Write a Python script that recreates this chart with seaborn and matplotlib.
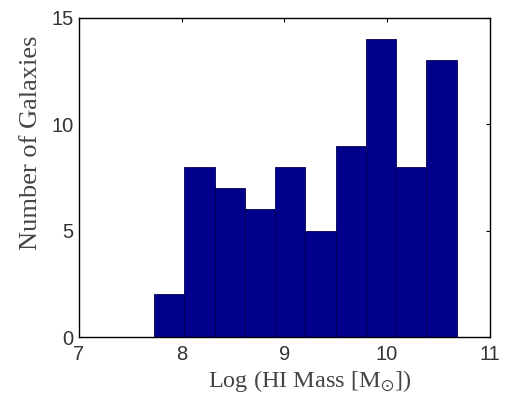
import numpy as np
import matplotlib
matplotlib.use("Agg")
import matplotlib.pyplot as plt
import seaborn as sns

# Histogram data
bin_edges = [7.733, 8.027, 8.322, 8.616, 8.910, 9.205, 9.499, 9.793, 10.088, 10.382, 10.676]
counts = [2, 8, 7, 6, 8, 5, 9, 14, 8, 13]
xticks = [7, 8, 9, 10, 11]
yticks = [0, 5, 10, 15]

centers = [(a + b) / 2 for a, b in zip(bin_edges[:-1], bin_edges[1:])]

sns.set_style("white")
plt.rcParams["font.family"] = ["Liberation Sans", "DejaVu Sans"]
plt.rcParams["mathtext.fontset"] = "stix"

fig = plt.figure(figsize=(5.06, 3.97), dpi=100)
ax = fig.add_axes([0.156, 0.151, 0.812, 0.804])

sns.histplot(x=centers, weights=counts, bins=bin_edges, ax=ax,
             color="#00008a", edgecolor="#000050", linewidth=0.6, alpha=1.0)

ax.set_xlim(7, 11)
ax.set_ylim(0, 15)
ax.set_xticks(xticks)
ax.set_yticks(yticks)
ax.tick_params(direction="in", length=3, width=0.8, top=True, right=True,
               labelsize=14.5, labelcolor="#333333", colors="black")
ax.tick_params(axis="x", pad=6)
ax.tick_params(axis="y", pad=4)
for s in ax.spines.values():
    s.set_visible(True)
    s.set_color("black")
    s.set_linewidth(1.0)

ax.set_xlabel(r"Log (HI Mass [M$_{\odot}$])", family="Liberation Serif",
              fontsize=17.5, color="#444444")
ax.set_ylabel("Number of Galaxies", family="Liberation Serif",
              fontsize=19, color="#444444")
ax.xaxis.set_label_coords(0.562, -0.098)
ax.yaxis.set_label_coords(-0.09, 0.61)

fig.savefig("out.png", dpi=100)
